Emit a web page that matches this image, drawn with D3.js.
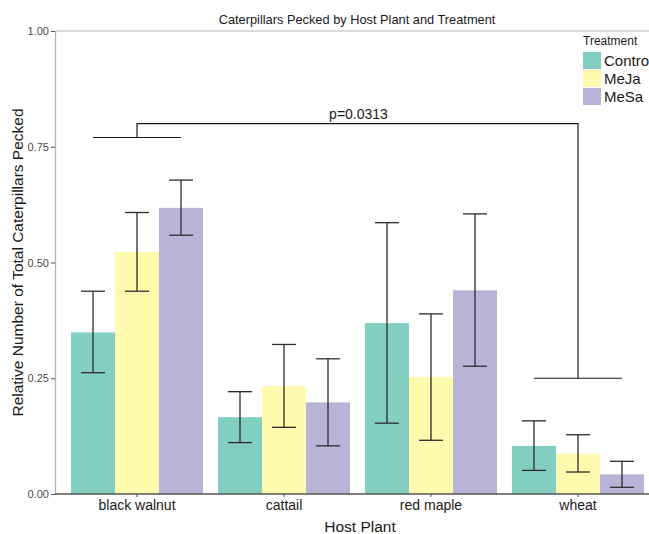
<!DOCTYPE html>
<html>
<head>
<meta charset="utf-8">
<script src="https://cdn.jsdelivr.net/npm/d3@7"></script>
<style>
  body { margin: 0; background: #fff; }
  svg { font-family: "Liberation Sans", Arial, sans-serif; }
</style>
</head>
<body>
<svg id="chart" width="649" height="534"></svg>
<script>
// data
const plants = ['black walnut', 'cattail', 'red maple', 'wheat'];
const treatments = ['Contro', 'MeJa', 'MeSa'];
const colors = ['#82cec0', '#fffaad', '#b8b4d7'];

// mean per plant, one array per treatment
const controlMean = [0.349, 0.166, 0.369, 0.104];
const mejaMean    = [0.523, 0.233, 0.253, 0.087];
const mesaMean    = [0.618, 0.198, 0.440, 0.0425];

// error bar lower / upper
const controlLow  = [0.262, 0.111, 0.153, 0.051];
const controlHigh = [0.438, 0.221, 0.586, 0.158];
const mejaLow     = [0.438, 0.144, 0.116, 0.0475];
const mejaHigh    = [0.608, 0.323, 0.389, 0.128];
const mesaLow     = [0.559, 0.104, 0.276, 0.0145];
const mesaHigh    = [0.678, 0.292, 0.605, 0.0706];

const yTicks = [0, 0.25, 0.5, 0.75, 1];

// significance bracket (black walnut vs wheat)
const bracketFrom = 'black walnut';
const bracketTo = 'wheat';
const bracketLeftY = 0.77;
const bracketTopY = 0.8;
const bracketRightY = 0.25;
const bracketLabel = 'p=0.0313';

const means = [controlMean, mejaMean, mesaMean];
const lows = [controlLow, mejaLow, mesaLow];
const highs = [controlHigh, mejaHigh, mesaHigh];

const rows = [];
plants.forEach((p, i) => {
  treatments.forEach((t, j) => {
    rows.push({ plant: p, treatment: t, mean: means[j][i], low: lows[j][i], high: highs[j][i], color: colors[j] });
  });
});

const margin = { top: 31, left: 55, bottom: 40 };
const svg = d3.select('#chart');

const x = d3.scaleBand()
  .domain(plants)
  .range([margin.left, 660])
  .paddingInner(15 / 147)
  .paddingOuter(0.109);

const xInner = d3.scaleBand()
  .domain(treatments)
  .range([0, x.bandwidth()]);

const y = d3.scaleLinear()
  .domain([0, 1])
  .range([494, margin.top]);

// top border of panel
svg.append('line')
  .attr('x1', margin.left).attr('x2', 649)
  .attr('y1', y(1)).attr('y2', y(1))
  .attr('stroke', '#b3b3b3').attr('stroke-width', 1);

// bars
svg.append('g').selectAll('rect')
  .data(rows)
  .enter()
  .append('rect')
  .attr('x', d => x(d.plant) + xInner(d.treatment))
  .attr('y', d => y(d.mean))
  .attr('width', xInner.bandwidth())
  .attr('height', d => y(0) - y(d.mean))
  .attr('fill', d => d.color);

// error bars
const cap = 12;
const eb = svg.append('g')
  .attr('stroke', '#2b2b2b')
  .attr('stroke-width', 1.3);

rows.forEach(d => {
  const cx = x(d.plant) + xInner(d.treatment) + xInner.bandwidth() / 2;
  eb.append('line').attr('x1', cx).attr('x2', cx).attr('y1', y(d.low)).attr('y2', y(d.high));
  eb.append('line').attr('x1', cx - cap).attr('x2', cx + cap).attr('y1', y(d.low)).attr('y2', y(d.low));
  eb.append('line').attr('x1', cx - cap).attr('x2', cx + cap).attr('y1', y(d.high)).attr('y2', y(d.high));
});

// axes
const yAxis = svg.append('g')
  .attr('transform', `translate(${margin.left},0)`)
  .call(d3.axisLeft(y).tickValues(yTicks).tickFormat(d3.format('.2f')).tickSize(4).tickSizeOuter(0));
yAxis.select('.domain').attr('stroke', '#b3b3b3').attr('stroke-width', 1.3);
yAxis.selectAll('.tick line').attr('stroke', '#555');
yAxis.selectAll('.tick text').attr('fill', '#4d4d4d').attr('font-size', 11).attr('x', -6);

const xAxis = svg.append('g')
  .attr('transform', `translate(0,${y(0)})`)
  .call(d3.axisBottom(x).tickSize(3).tickSizeOuter(0));
xAxis.select('.domain').remove();
xAxis.append('line')
  .attr('x1', margin.left).attr('x2', 649)
  .attr('stroke', '#555').attr('stroke-width', 1.3);
xAxis.selectAll('.tick line').attr('stroke', '#555');
xAxis.selectAll('.tick text').attr('fill', '#1a1a1a').attr('font-size', 14).attr('dy', '0.7em');

// significance bracket
const xl = x(bracketFrom) + x.bandwidth() / 2;
const xr = x(bracketTo) + x.bandwidth() / 2;
const half = xInner.step();
const br = svg.append('g').attr('stroke', '#1a1a1a').attr('stroke-width', 1.2).attr('fill', 'none');
br.append('line').attr('x1', xl - half).attr('x2', xl + half).attr('y1', y(bracketLeftY)).attr('y2', y(bracketLeftY));
br.append('path').attr('d', `M${xl},${y(bracketLeftY)}V${y(bracketTopY)}H${xr}V${y(bracketRightY)}`);
br.append('line').attr('x1', xr - half).attr('x2', xr + half).attr('y1', y(bracketRightY)).attr('y2', y(bracketRightY));
svg.append('text')
  .attr('x', (xl + xr) / 2 + 1)
  .attr('y', y(bracketTopY) - 5)
  .attr('text-anchor', 'middle')
  .attr('font-size', 14)
  .attr('fill', '#1a1a1a')
  .text(bracketLabel);

// titles
svg.append('text')
  .attr('x', 357).attr('y', 24)
  .attr('text-anchor', 'middle')
  .attr('font-size', 12.8)
  .attr('fill', '#1a1a1a')
  .text('Caterpillars Pecked by Host Plant and Treatment');

svg.append('text')
  .attr('x', 360).attr('y', 532)
  .attr('text-anchor', 'middle')
  .attr('font-size', 15.5)
  .attr('fill', '#1a1a1a')
  .text('Host Plant');

svg.append('text')
  .attr('transform', `translate(23,${y(0.5)}) rotate(-90)`)
  .attr('text-anchor', 'middle')
  .attr('font-size', 15.5)
  .attr('fill', '#1a1a1a')
  .text('Relative Number of Total Caterpillars Pecked');

// legend
const legend = svg.append('g').attr('transform', 'translate(583,45)');
legend.append('text')
  .attr('x', 0).attr('y', 0)
  .attr('font-size', 12)
  .attr('fill', '#1a1a1a')
  .text('Treatment');
treatments.forEach((t, j) => {
  const g = legend.append('g').attr('transform', `translate(0,${7 + j * 18})`);
  g.append('rect').attr('width', 18).attr('height', 17).attr('fill', colors[j]);
  g.append('text')
    .attr('x', 21).attr('y', 9)
    .attr('dy', '0.35em')
    .attr('font-size', 15)
    .attr('fill', '#1a1a1a')
    .text(t);
});
</script>
</body>
</html>
